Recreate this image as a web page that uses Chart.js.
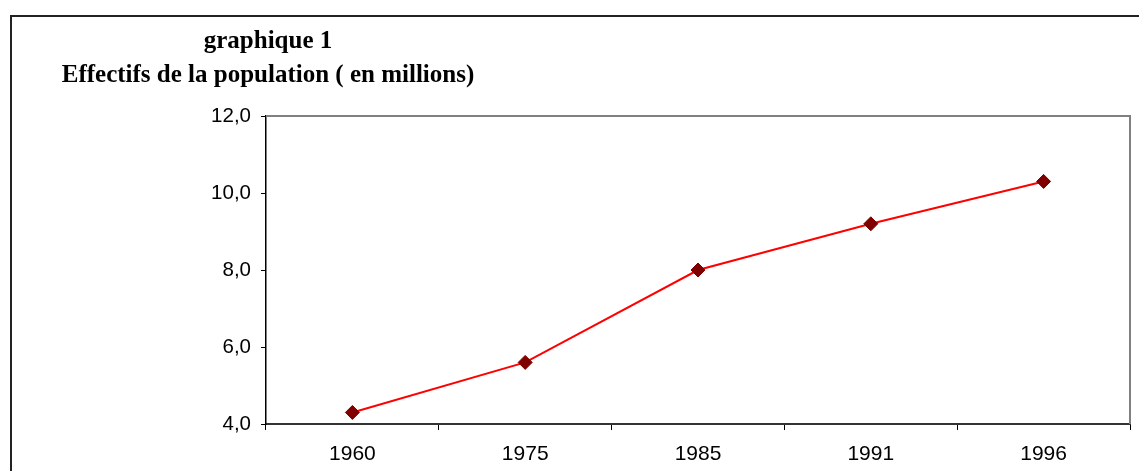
<!DOCTYPE html>
<html>
<head>
<meta charset="utf-8">
<script src="https://cdn.jsdelivr.net/npm/chart.js@4"></script>
<style>
  html, body { margin: 0; padding: 0; background: #fff; }
  #wrap { position: relative; width: 1139px; height: 471px; overflow: hidden; }
  .title { position: absolute; left: 0; width: 536px; text-align: center;
           font-family: "Liberation Serif", "Times New Roman", serif; font-weight: bold;
           font-size: 25px; line-height: 25px; color: #000; }
</style>
</head>
<body>
<div id="wrap">
  <canvas id="popChart" width="1139" height="471"></canvas>
  <div class="title" style="top:27px">graphique 1</div>
  <div class="title" style="top:61px">Effectifs de la population ( en millions)</div>
</div>
<script>
let years = ["1960", "1975", "1985", "1991", "1996"];
let population = [4.3, 5.6, 8.0, 9.2, 10.3];
let yTicks = [4, 6, 8, 10, 12];

// outer frame + grey top/right border of the plot
const frames = {
    id: 'frames',
    beforeDraw(chart) {
        let ctx = chart.ctx;
        ctx.save();
        ctx.fillStyle = '#fff';
        ctx.fillRect(0, 0, chart.width, chart.height);
        ctx.strokeStyle = '#222';
        ctx.lineWidth = 2;
        ctx.beginPath();
        ctx.moveTo(11, chart.height + 5);
        ctx.lineTo(11, 16);
        ctx.lineTo(chart.width + 5, 16);
        ctx.stroke();
        ctx.restore();
    },
    beforeDatasetsDraw(chart) {
        let a = chart.chartArea;
        let ctx = chart.ctx;
        ctx.save();
        ctx.strokeStyle = '#808080';
        ctx.lineWidth = 2;
        ctx.beginPath();
        ctx.moveTo(a.left, a.top);
        ctx.lineTo(a.right, a.top);
        ctx.lineTo(a.right, a.bottom);
        ctx.stroke();
        ctx.restore();
    }
};

let ctx = document.getElementById("popChart").getContext("2d");
let popChart = new Chart(ctx, {
    type: 'line',
    data: {
        labels: years,
        datasets: [{
            data: population,
            borderColor: '#ff0000',
            borderWidth: 2,
            pointStyle: 'rectRot',
            pointRadius: 7,
            pointBackgroundColor: '#800000',
            pointBorderColor: '#800000',
            pointBorderWidth: 1,
            tension: 0
        }]
    },
    options: {
        responsive: false,
        animation: false,
        layout: { padding: { top: 116, right: 9, left: 0, bottom: 0 } },
        plugins: {
            legend: { display: false },
            tooltip: { enabled: false }
        },
        scales: {
            x: {
                offset: true,
                grid: { offset: true, drawOnChartArea: false, tickLength: 6, tickColor: '#000', tickWidth: 1 },
                border: { color: '#333', width: 2 },
                ticks: {
                    color: '#000', maxRotation: 0, padding: 12,
                    font: { family: 'Liberation Sans, Arial, sans-serif', size: 21 }
                },
                afterFit: s => { s.height = 47; }
            },
            y: {
                min: 4,
                max: 12,
                grid: { drawOnChartArea: false, tickLength: 5, tickColor: '#000', tickWidth: 1 },
                border: { color: '#000', width: 1.5 },
                afterBuildTicks: s => { s.ticks = yTicks.map(v => ({ value: v })); },
                ticks: {
                    color: '#000', padding: 10,
                    font: { family: 'Liberation Sans, Arial, sans-serif', size: 20.5 },
                    callback: v => v.toFixed(1).replace('.', ',')
                },
                afterFit: s => { s.width = 266; }
            }
        }
    },
    plugins: [frames]
});
</script>
</body>
</html>
